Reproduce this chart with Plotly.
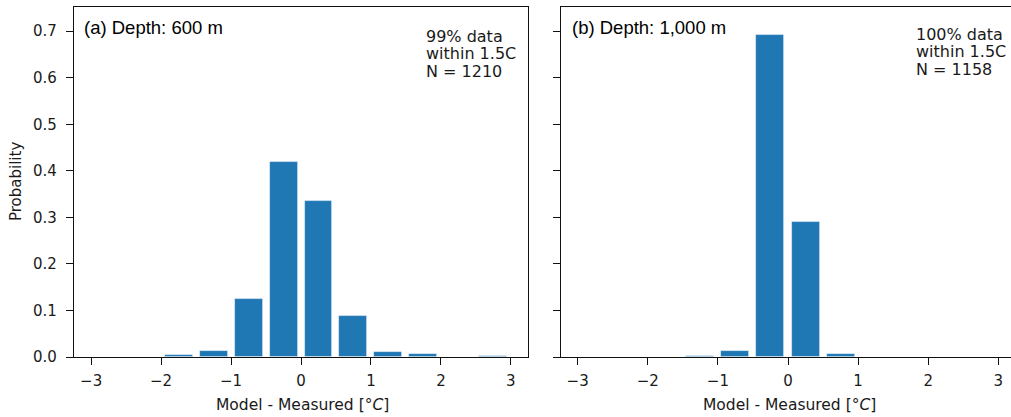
import plotly.graph_objects as go

bin_centers = [-2.75, -2.25, -1.75, -1.25, -0.75, -0.25, 0.25, 0.75, 1.25, 1.75, 2.25, 2.75]
prob_600 = [0, 0, 0.0037, 0.0138, 0.125, 0.419, 0.336, 0.089, 0.010, 0.0065, 0, 0.002]
prob_1000 = [0, 0, 0, 0.002, 0.013, 0.692, 0.290, 0.0065, 0, 0, 0, 0]
x_ticks = [-3, -2, -1, 0, 1, 2, 3]
y_ticks = [0.0, 0.1, 0.2, 0.3, 0.4, 0.5, 0.6, 0.7]
y_tick_labels = ["0.0", "0.1", "0.2", "0.3", "0.4", "0.5", "0.6", "0.7"]
panel_labels = ["(a) Depth: 600 m", "(b) Depth: 1,000 m"]
stats_600 = ["99% data", "within 1.5C", "N = 1210"]
stats_1000 = ["100% data", "within 1.5C", "N = 1158"]

BLUE = "#1f77b4"
TXT = "#1a1a1a"
DV = "DejaVu Sans"

fig = go.Figure()
fig.add_trace(go.Bar(x=bin_centers, y=prob_600, width=0.4, marker=dict(color=BLUE, line=dict(color="rgba(255,255,255,0.6)", width=0.8)),
                     xaxis="x", yaxis="y", showlegend=False))
fig.add_trace(go.Bar(x=bin_centers, y=prob_1000, width=0.4, marker=dict(color=BLUE, line=dict(color="rgba(255,255,255,0.6)", width=0.8)),
                     xaxis="x2", yaxis="y2", showlegend=False))

W, H = 1011, 417
ml, mr, mt, mb = 74, 0, 7, 60
pw = W - ml - mr
ph = H - mt - mb

def px_x(p):
    return (p - ml) / pw

def px_y(p):
    return (H - mb - p) / ph

axis_common = dict(showgrid=False, zeroline=False, showline=True, linecolor="#111", linewidth=1.3,
                   ticks="outside", ticklen=7, tickwidth=1.2, tickcolor="#111",
                   tickfont=dict(family=DV, size=15, color=TXT))

fig.update_layout(
    width=W, height=H, margin=dict(l=ml, r=mr, t=mt, b=mb),
    plot_bgcolor="white", paper_bgcolor="white",
    bargap=0,
    xaxis=dict(domain=[0, px_x(528)], range=[-3.245, 3.245], tickvals=x_ticks, mirror=True,
               ticklabelstandoff=3, anchor="y", **axis_common),
    yaxis=dict(domain=[0, 1], range=[0, 0.752], tickvals=y_ticks, ticktext=y_tick_labels, mirror=True,
               ticklabelstandoff=6, anchor="x", **axis_common),
    xaxis2=dict(domain=[px_x(561), 1], range=[-3.238, 3.181], tickvals=x_ticks, mirror=True,
                ticklabelstandoff=3, anchor="y2", **axis_common),
    yaxis2=dict(domain=[0, 1], range=[0, 0.752], tickvals=y_ticks, showticklabels=False, mirror=False,
                anchor="x2", **axis_common),
)

ann = []
# axis titles
ann.append(dict(text="Model - Measured [°<i>C</i>]", x=px_x(302), y=px_y(405), xref="paper", yref="paper",
                showarrow=False, xanchor="center", yanchor="middle", font=dict(family=DV, size=15.5, color=TXT)))
ann.append(dict(text="Model - Measured [°<i>C</i>]", x=px_x(789), y=px_y(405), xref="paper", yref="paper",
                showarrow=False, xanchor="center", yanchor="middle", font=dict(family=DV, size=15.5, color=TXT)))
ann.append(dict(text="Probability", x=px_x(16), y=px_y(182), xref="paper", yref="paper", textangle=-90,
                showarrow=False, xanchor="center", yanchor="middle", font=dict(family=DV, size=15, color=TXT)))
# panel labels
ann.append(dict(text=panel_labels[0], x=px_x(82), y=px_y(27), xref="paper", yref="paper",
                showarrow=False, xanchor="left", yanchor="middle", font=dict(family="Liberation Sans", size=18.5, color="#000")))
ann.append(dict(text=panel_labels[1], x=px_x(570), y=px_y(27), xref="paper", yref="paper",
                showarrow=False, xanchor="left", yanchor="middle", font=dict(family="Liberation Sans", size=18.5, color="#000")))
# stats
for line, yy in zip(stats_600, [36, 53.5, 71.5]):
    ann.append(dict(text=line, x=px_x(424), y=px_y(yy), xref="paper", yref="paper",
                    showarrow=False, xanchor="left", yanchor="middle", font=dict(family=DV, size=16, color=TXT)))
for line, yy in zip(stats_1000, [34, 51.5, 69]):
    ann.append(dict(text=line, x=px_x(914), y=px_y(yy), xref="paper", yref="paper",
                    showarrow=False, xanchor="left", yanchor="middle", font=dict(family=DV, size=16, color=TXT)))

fig.update_layout(annotations=ann)
fig.write_html("out.html")
